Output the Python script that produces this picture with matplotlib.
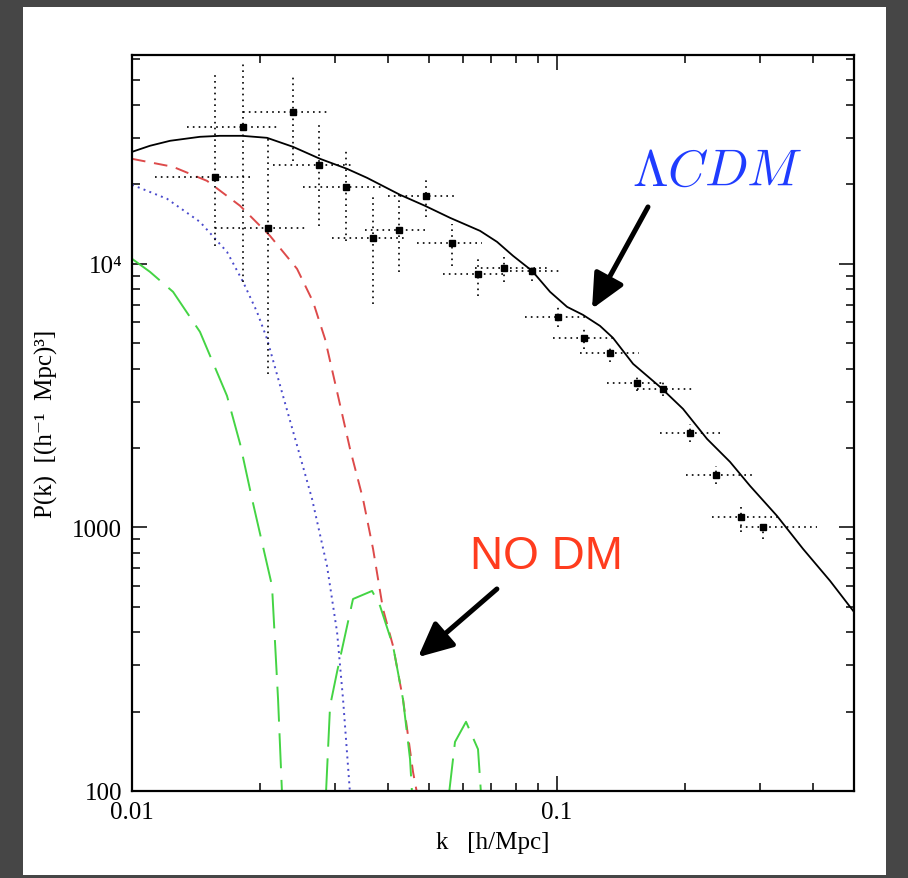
import matplotlib
matplotlib.use("Agg")
import matplotlib.pyplot as plt
import numpy as np
from matplotlib.patches import Rectangle
from matplotlib.ticker import FixedLocator, FixedFormatter, LogLocator, NullFormatter

plt.rcParams['mathtext.fontset'] = 'cm'
serif = ['Liberation Serif', 'DejaVu Serif']

# band powers with their error-bar ends
k_obs = [0.0157, 0.0182, 0.0209, 0.0239, 0.0275, 0.0319, 0.0369, 0.0425, 0.0492, 0.0566, 0.0652,
         0.0750, 0.0874, 0.1006, 0.1157, 0.1333, 0.1543, 0.1776, 0.2056, 0.2366, 0.2710, 0.3053]
P_obs = [21380, 33110, 13700, 37760, 23770, 19600, 12550, 13460, 18120, 12020, 9160,
         9660, 9400, 6290, 5240, 4590, 3535, 3354, 2284, 1583, 1096, 1004]
k_lo = [0.01133, 0.01347, 0.01567, 0.01825, 0.02146, 0.02526, 0.02955, 0.03533, 0.04004, 0.04684, 0.05392,
        0.06413, 0.07754, 0.08408, 0.0979, 0.1133, 0.1311, 0.1543, 0.1747, 0.2012, 0.2315, 0.2696]
k_hi = [0.01916, 0.02193, 0.02554, 0.02924, 0.0331, 0.03874, 0.04436, 0.04971, 0.05817, 0.0666, 0.07465,
        0.0963, 0.1016, 0.1176, 0.1354, 0.1559, 0.1795, 0.2112, 0.2445, 0.2892, 0.3347, 0.4091]
P_lo = [11700, 8550, 3823, 24600, 13930, 12230, 7050, 9325, 15080, 9827, 7560,
        8550, 8620, 5768, 4757, 4247, 3296, 3157, 2111, 1463, 961, 904]
P_hi = [54000, 57400, 30300, 51240, 33970, 26840, 17950, 18440, 21020, 14180, 10725,
        10725, 10000, 6928, 5666, 4885, 3823, 3566, 2471, 1712, 1207, 1049]

# LCDM model
k_lcdm = [0.01, 0.01102, 0.01229, 0.01445, 0.0161, 0.01815, 0.02078, 0.02392, 0.0277, 0.03205, 0.03573,
          0.04272, 0.04892, 0.05601, 0.0659, 0.07225, 0.0788, 0.08736, 0.0963, 0.1056, 0.1151, 0.1262,
          0.1354, 0.151, 0.1747, 0.1979, 0.2254, 0.2553, 0.2846, 0.3293, 0.3792, 0.439, 0.4998]
P_lcdm = [26600, 28050, 29300, 30340, 30600, 30600, 30070, 27800, 25030, 22940, 21200,
          18280, 16600, 14950, 13340, 12120, 10725, 9406, 7830, 6867, 6404, 5817,
          5239, 4174, 3414, 2817, 2167, 1773, 1437, 1106, 829, 627, 478]

# baryon-only models
k_red = [0.01, 0.01249, 0.01501, 0.01796, 0.02112, 0.02445, 0.02667, 0.02845, 0.03053, 0.03258, 0.03495,
         0.03691, 0.03896, 0.04113, 0.04341, 0.04584, 0.04684]
P_red = [25030, 23340, 20650, 16600, 12770, 9573, 7175, 5193, 3155, 1986, 1283,
         829, 490, 355, 223, 118, 98]
k_blue = [0.01, 0.01209, 0.01445, 0.01673, 0.01825, 0.01968, 0.02078, 0.02266, 0.02458, 0.02652,
          0.02876, 0.03037, 0.03137, 0.03258]
P_blue = [19950, 17650, 14430, 11100, 8545, 6575, 5193, 3155, 1986, 1283,
          714, 401, 223, 98]
k_green = [[0.01, 0.01102, 0.01249, 0.01445, 0.01673, 0.01796, 0.01916, 0.02135, 0.02206, 0.02254],
           [0.0286, 0.02924, 0.03037, 0.03311, 0.03671, 0.03833, 0.04113, 0.04341, 0.0451, 0.04559],
           [0.05572, 0.05754, 0.06108, 0.06518, 0.06624]]
P_green = [[10450, 9325, 7830, 5520, 3155, 2075, 1283, 600, 223, 98],
           [98, 210, 283, 535, 574, 504, 355, 223, 132, 98],
           [98, 153.5, 183, 144, 98]]

fig = plt.figure(figsize=(9.08, 8.79), dpi=100, facecolor='#464646')
fig.patches.append(Rectangle((0.0253, 0.0034), 0.9505, 0.9875, transform=fig.transFigure,
                             facecolor='white', edgecolor='none', zorder=-1))
ax = fig.add_axes([0.1454, 0.0990, 0.7952, 0.8373])
ax.set_xscale('log')
ax.set_yscale('log')
ax.set_xlim(0.01, 0.5)
ax.set_ylim(100, 62000)

ax.plot(k_lcdm, P_lcdm, color='black', lw=1.3)
ax.plot(k_red, P_red, color='#dd4a4a', lw=1.4, dashes=(7, 4.5))
ax.plot(k_blue, P_blue, color='#4a4acc', lw=1.4, dashes=(1, 2.2))
for kg, pg in zip(k_green, P_green):
    ax.plot(kg, pg, color='#44d444', lw=1.4, dashes=(18, 6))

k_arr = np.array(k_obs)
P_arr = np.array(P_obs)
eb = ax.errorbar(k_arr, P_arr,
                 xerr=[k_arr - np.array(k_lo), np.array(k_hi) - k_arr],
                 yerr=[P_arr - np.array(P_lo), np.array(P_hi) - P_arr],
                 fmt='s', color='black', ms=5, elinewidth=1.2, capsize=0)
for c in eb[2]:
    c.set_linestyle((0, (1, 2.5)))

# ticks
ax.tick_params(which='both', direction='in', top=True, right=True, width=1.1)
ax.tick_params(which='major', length=11, labelsize=18, pad=7)
ax.tick_params(which='minor', length=6)
ax.xaxis.set_major_locator(FixedLocator([0.01, 0.1]))
ax.xaxis.set_major_formatter(FixedFormatter(['0.01', '0.1']))
ax.xaxis.set_minor_locator(LogLocator(base=10, subs=np.arange(2, 10), numticks=20))
ax.xaxis.set_minor_formatter(NullFormatter())
ax.yaxis.set_major_locator(FixedLocator([100, 1000, 10000]))
ax.yaxis.set_major_formatter(FixedFormatter(['100', '1000', '10⁴']))
ax.yaxis.set_minor_locator(LogLocator(base=10, subs=np.arange(2, 10), numticks=20))
ax.yaxis.set_minor_formatter(NullFormatter())
for lab in ax.get_xticklabels() + ax.get_yticklabels():
    lab.set_family(serif)
for s in ax.spines.values():
    s.set_linewidth(1.6)

ax.set_xlabel('k   [h/Mpc]', family=serif, fontsize=18, labelpad=6)
ax.set_ylabel('P(k)  [(h⁻¹  Mpc)³]', family=serif, fontsize=18, labelpad=10)

# annotations
ax.text(0.2379, 22540, r'$\Lambda CDM$', color='#1f3cff', fontsize=37, ha='center', va='center')
ax.annotate('', xy=(0.1209, 6750), xytext=(0.1637, 16440),
            arrowprops=dict(arrowstyle='-|>,head_length=0.95,head_width=0.45', lw=3.6,
                            color='black', mutation_scale=22, shrinkA=0, shrinkB=0))
ax.text(0.0942, 780, 'NO DM', color='#ff3c1e', fontsize=33, family='Liberation Sans',
        ha='center', va='center')
ax.annotate('', xy=(0.0471, 322), xytext=(0.0722, 584),
            arrowprops=dict(arrowstyle='-|>,head_length=0.95,head_width=0.45', lw=3.6,
                            color='black', mutation_scale=22, shrinkA=0, shrinkB=0))

fig.savefig('out.png', dpi=100, facecolor=fig.get_facecolor())
